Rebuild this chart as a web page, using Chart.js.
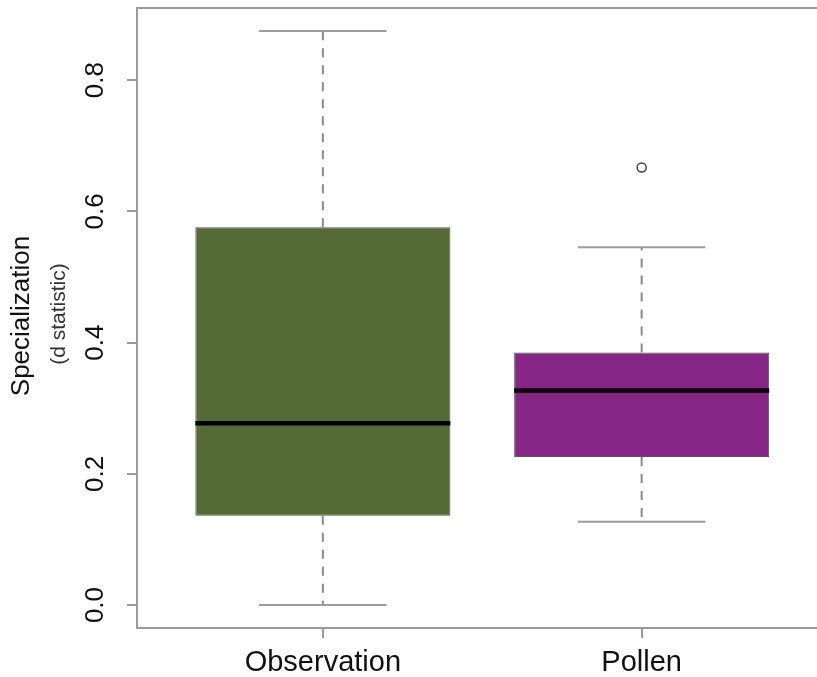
<!DOCTYPE html>
<html>
<head>
<meta charset="utf-8">
<script src="https://cdn.jsdelivr.net/npm/chart.js@4.4.1/dist/chart.umd.min.js"></script>
<style>
  html, body { margin: 0; padding: 0; background: #fff; overflow: hidden; }
  canvas { display: block; }
</style>
</head>
<body>
<canvas id="chart" width="817" height="677"></canvas>
<script>
// data
const categories = ["Observation", "Pollen"];
const whiskerLow = [0.0, 0.127];
const q1 = [0.136, 0.2255];
const median = [0.277, 0.327];
const q3 = [0.576, 0.385];
const whiskerHigh = [0.875, 0.5455];
const outliers = [[], [0.667]];
const yTicks = [0.0, 0.2, 0.4, 0.6, 0.8];
const yTickLabels = ["0.0", "0.2", "0.4", "0.6", "0.8"];
const boxColors = ["#556b35", "#862585"];

const FONT = "'Liberation Sans', Arial, sans-serif";
const AXIS_GREY = "#9a9a9a";

const ctx = document.querySelector("#chart").getContext("2d");

// whiskers, caps, medians, top frame line and the y title
const boxExtras = {
  id: "boxExtras",
  afterDatasetsDraw(chart) {
    const c = chart.ctx;
    const xs = chart.scales.x;
    const ys = chart.scales.y;
    const half = 0.4; // box half width in x units
    c.save();
    categories.forEach((cat, i) => {
      const xc = xs.getPixelForValue(i + 1);
      const xl = xs.getPixelForValue(i + 1 - half);
      const xr = xs.getPixelForValue(i + 1 + half);
      const capL = xs.getPixelForValue(i + 1 - half / 2);
      const capR = xs.getPixelForValue(i + 1 + half / 2);

      // dashed whiskers
      c.strokeStyle = "#8a8a8a";
      c.lineWidth = 2;
      c.setLineDash([9, 8]);
      c.beginPath();
      c.moveTo(xc, ys.getPixelForValue(q3[i]));
      c.lineTo(xc, ys.getPixelForValue(whiskerHigh[i]));
      c.moveTo(xc, ys.getPixelForValue(q1[i]));
      c.lineTo(xc, ys.getPixelForValue(whiskerLow[i]));
      c.stroke();
      c.setLineDash([]);

      // caps
      c.strokeStyle = "#9c9c9c";
      c.lineWidth = 2;
      c.beginPath();
      c.moveTo(capL, ys.getPixelForValue(whiskerHigh[i]));
      c.lineTo(capR, ys.getPixelForValue(whiskerHigh[i]));
      c.moveTo(capL, ys.getPixelForValue(whiskerLow[i]));
      c.lineTo(capR, ys.getPixelForValue(whiskerLow[i]));
      c.stroke();

      // median
      c.strokeStyle = "#000";
      c.lineWidth = 4.5;
      c.beginPath();
      c.moveTo(xl, ys.getPixelForValue(median[i]));
      c.lineTo(xr, ys.getPixelForValue(median[i]));
      c.stroke();
    });

    // top frame
    const a = chart.chartArea;
    c.strokeStyle = AXIS_GREY;
    c.lineWidth = 2;
    c.beginPath();
    c.moveTo(a.left - 1, a.top);
    c.lineTo(chart.width, a.top);
    c.stroke();

    // y axis title (two lines, different sizes)
    const midY = (a.top + a.bottom) / 2;
    c.fillStyle = "#111";
    c.textAlign = "center";
    c.textBaseline = "middle";
    c.save();
    c.translate(22, midY - 2);
    c.rotate(-Math.PI / 2);
    c.font = "26px " + FONT;
    c.fillText("Specialization", 0, 0);
    c.restore();
    c.save();
    c.translate(59, midY - 4);
    c.rotate(-Math.PI / 2);
    c.fillStyle = "#333";
    c.font = "21px " + FONT;
    c.fillText("(d statistic)", 0, 0);
    c.restore();
    c.restore();
  },
};

new Chart(ctx, {
  type: "bar",
  data: {
    datasets: [
      {
        type: "bar",
        data: categories.map((cat, i) => ({ x: i + 1, y: [q1[i], q3[i]] })),
        backgroundColor: boxColors,
        borderColor: "#555",
        borderWidth: 1,
        borderSkipped: false,
        barPercentage: 0.8,
        categoryPercentage: 1,
      },
      {
        type: "scatter",
        data: outliers.flatMap((vals, i) => vals.map((v) => ({ x: i + 1, y: v }))),
        pointStyle: "circle",
        pointRadius: 4.5,
        pointBackgroundColor: "#fff",
        pointBorderColor: "#444",
        pointBorderWidth: 1.5,
      },
    ],
  },
  options: {
    responsive: false,
    animation: false,
    layout: { autoPadding: false, padding: { top: 8, left: 0, right: 0, bottom: 0 } },
    plugins: {
      legend: { display: false },
      tooltip: { enabled: false },
    },
    scales: {
      x: {
        type: "linear",
        offset: false,
        min: 0.417,
        max: 2.55,
        afterBuildTicks: (scale) => {
          scale.ticks = categories.map((c, i) => ({ value: i + 1 }));
        },
        afterFit: (scale) => {
          scale.height = 49;
          scale.paddingLeft = 0;
          scale.paddingRight = 0;
        },
        ticks: {
          callback: (v) => categories[v - 1],
          color: "#111",
          font: { family: FONT, size: 29 },
          padding: 8,
          maxRotation: 0,
          autoSkip: false,
        },
        grid: {
          offset: false,
          drawOnChartArea: false,
          drawTicks: true,
          tickLength: 10,
          color: AXIS_GREY,
          lineWidth: 2,
        },
        border: { display: true, color: AXIS_GREY, width: 2 },
      },
      y: {
        min: -0.035,
        max: 0.91,
        afterBuildTicks: (scale) => {
          scale.ticks = yTicks.map((v) => ({ value: v }));
        },
        afterFit: (scale) => {
          scale.width = 137;
          scale.paddingTop = 0;
          scale.paddingBottom = 0;
        },
        ticks: {
          callback: (v) => yTickLabels[yTicks.indexOf(v)],
          color: "#111",
          font: { family: FONT, size: 26 },
          minRotation: 90,
          maxRotation: 90,
          crossAlign: "center",
          padding: 13,
        },
        grid: {
          drawOnChartArea: false,
          drawTicks: true,
          tickLength: 10,
          color: AXIS_GREY,
          lineWidth: 2,
        },
        border: { display: true, color: AXIS_GREY, width: 2 },
      },
    },
  },
  plugins: [boxExtras],
});
</script>
</body>
</html>
